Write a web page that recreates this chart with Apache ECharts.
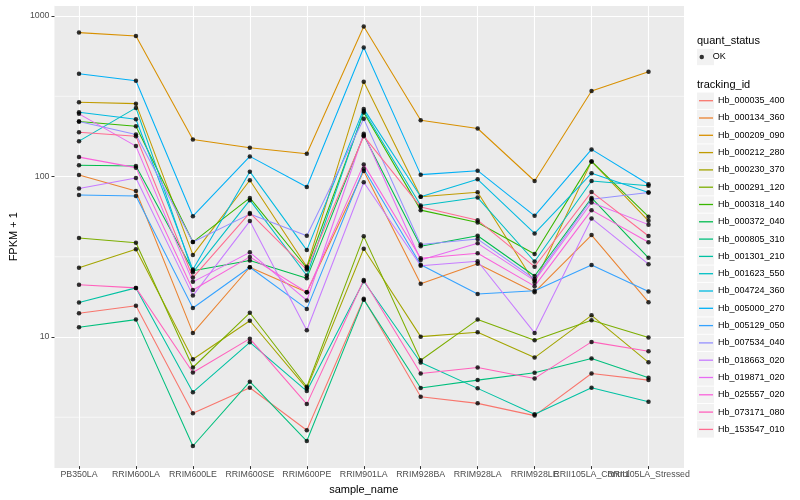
<!DOCTYPE html>
<html><head><meta charset="utf-8">
<script src="https://cdn.jsdelivr.net/npm/echarts@6/dist/echarts.min.js"></script>
<style>html,body{margin:0;padding:0;background:#fff}#c{width:800px;height:500px}</style>
</head><body><div id="c"></div>
<script>
// ---------- data (FPKM + 1) ----------
const categories = ['PB350LA','RRIM600LA','RRIM600LE','RRIM600SE','RRIM600PE','RRIM901LA','RRIM928BA','RRIM928LA','RRIM928LE','RRII105LA_Control','RRII105LA_Stressed'];
const minorGrid = [3.162, 31.62, 316.2];

const Hb_000035_400 = [13.8, 15.4, 3.27, 4.72, 2.56, 17.0, 4.15, 3.77, 3.16, 5.80, 5.27];
const Hb_000134_360 = [101.2, 80.4, 10.4, 26.8, 18.7, 107.1, 21.1, 28.2, 18.7, 42.6, 16.2];
const Hb_000209_090 = [787, 750, 168.8, 149.8, 137.5, 860, 222.6, 197.7, 92.8, 339.5, 447.9];
const Hb_000212_280 = [288.3, 282.9, 32.0, 93.8, 27.0, 388, 74.0, 78.9, 21.4, 123.1, 52.3];
const Hb_000230_370 = [26.6, 34.7, 7.12, 12.4, 4.68, 35.0, 9.86, 10.5, 7.29, 13.4, 6.81];
const Hb_000291_120 = [40.8, 38.1, 6.32, 13.9, 4.79, 41.8, 7.02, 12.6, 9.35, 12.5, 9.74];
const Hb_000318_140 = [218.6, 204.3, 38.5, 72.7, 26.5, 248.6, 61.0, 51.1, 32.4, 123.1, 55.5];
const Hb_000372_040 = [116.3, 115.1, 25.5, 29.5, 22.9, 179.6, 36.2, 42.2, 23.6, 72.7, 30.7];
const Hb_000805_310 = [11.3, 12.6, 2.04, 5.15, 2.19, 16.8, 4.70, 5.27, 5.86, 7.19, 5.45];
const Hb_001301_210 = [16.1, 19.9, 4.43, 9.08, 4.50, 21.9, 6.79, 4.68, 3.22, 4.72, 3.86];
const Hb_001623_550 = [164.8, 266.0, 24.9, 70.4, 23.8, 254.1, 65.2, 73.1, 29.1, 92.8, 86.6];
const Hb_004724_360 = [249.7, 225.9, 25.9, 106.2, 34.3, 262.2, 74.0, 95.1, 43.6, 103.7, 78.6];
const Hb_005000_270 = [435, 393.6, 55.9, 132.3, 85.2, 634.5, 101.7, 107.7, 56.2, 146.3, 88.5];
const Hb_005129_050 = [75.9, 74.8, 14.9, 26.8, 14.7, 110.6, 27.8, 18.2, 19.1, 27.7, 18.9];
const Hb_007534_040 = [218.6, 181.4, 38.5, 57.6, 42.2, 227.2, 37.2, 40.2, 22.6, 71.4, 78.6];
const Hb_018663_020 = [83.2, 96.9, 17.8, 52.1, 10.8, 91.1, 27.4, 29.2, 10.4, 54.1, 28.0];
const Hb_019871_020 = [244.1, 153.4, 21.7, 33.2, 16.6, 183.2, 29.7, 37.8, 22.1, 68.1, 49.5];
const Hb_025557_020 = [130.9, 112.5, 19.3, 31.1, 18.7, 117.9, 30.5, 32.8, 20.4, 61.0, 38.4];
const Hb_073171_080 = [20.8, 19.9, 5.88, 9.58, 3.73, 22.3, 5.80, 6.32, 5.40, 9.14, 7.98];
const Hb_153547_010 = [187.5, 177.0, 23.1, 58.6, 25.9, 177.0, 63.9, 52.8, 27.0, 79.3, 42.0];

const trackingIds = ['Hb_000035_400','Hb_000134_360','Hb_000209_090','Hb_000212_280','Hb_000230_370','Hb_000291_120','Hb_000318_140','Hb_000372_040','Hb_000805_310','Hb_001301_210','Hb_001623_550','Hb_004724_360','Hb_005000_270','Hb_005129_050','Hb_007534_040','Hb_018663_020','Hb_019871_020','Hb_025557_020','Hb_073171_080','Hb_153547_010'];
const seriesValues = [Hb_000035_400,Hb_000134_360,Hb_000209_090,Hb_000212_280,Hb_000230_370,Hb_000291_120,Hb_000318_140,Hb_000372_040,Hb_000805_310,Hb_001301_210,Hb_001623_550,Hb_004724_360,Hb_005000_270,Hb_005129_050,Hb_007534_040,Hb_018663_020,Hb_019871_020,Hb_025557_020,Hb_073171_080,Hb_153547_010];
const quantStatus = ['OK'];

// ---------- styles ----------
const palette = ['#F8766D','#EA8331','#D89000','#C09B00','#A3A500','#7CAE00','#39B600','#00BB4E','#00BF7D','#00C1A3','#00BFC4','#00BAE0','#00B0F6','#35A2FF','#9590FF','#C77CFF','#E76BF3','#FA62DB','#FF62BC','#FF6C91'];
const FONT = '"Liberation Sans", Arial, Helvetica, sans-serif';
const yMin = 1.527, yMax = 1163;
const PANEL = {left:45, right:684, top:5.5, bottom:468};

const chart = echarts.init(document.getElementById('c'));

const minorSeries = minorGrid.map(v => ({
  type:'line', xAxisIndex:0, yAxisIndex:0, data:[[0, v], [1, v]],
  symbol:'none', showSymbol:false, silent:true, z:1,
  lineStyle:{color:'#ffffff', width:0.6}
}));
const lineSeries = trackingIds.map((id, i) => ({
  name: id, type: 'line', xAxisIndex: 1, yAxisIndex: 1,
  data: seriesValues[i], symbol: 'none', showSymbol: false,
  color: palette[i], itemStyle: {color: palette[i]},
  lineStyle: {width: 1.05, color: palette[i]}, silent: true, z: 3
}));
const points = [];
seriesValues.forEach(vals => vals.forEach((v, j) => points.push([j, v])));

const legendTop = 94.7, legendStep = 17.3;
const keyBoxes = [{type:'rect', shape:{x:697, y:57-8.2, width:17, height:16.4}, style:{fill:'#F2F2F2'}, z:1, silent:true}];
trackingIds.forEach((id, i) => keyBoxes.push({
  type:'rect', shape:{x:697, y:legendTop + 6 + legendStep*i - 8.2, width:17, height:16.4},
  style:{fill:'#F2F2F2'}, z:1, silent:true
}));

chart.setOption({
  animation: false,
  backgroundColor: '#fff',
  textStyle: {fontFamily: FONT},
  title: [
    {text:'quant_status', left:697, top:34, padding:0, textStyle:{fontSize:11, fontWeight:'normal', color:'#000', fontFamily:FONT, lineHeight:13}},
    {text:'tracking_id', left:697, top:78, padding:0, textStyle:{fontSize:11, fontWeight:'normal', color:'#000', fontFamily:FONT, lineHeight:13}}
  ],
  graphic: keyBoxes,
  legend: [
    {data: quantStatus.map(n => ({name:n, icon:'circle', itemStyle:{color:'#000'}})),
     orient:'vertical', left:699.5, top:51, padding:0, itemWidth:12, itemHeight:4.5,
     selectedMode:false, textStyle:{fontSize:9, lineHeight:12, color:'#000', fontFamily:FONT}},
    {data: trackingIds.map((n, i) => ({name:n, icon:'rect', itemStyle:{color:palette[i]}})),
     orient:'vertical', left:699, top:legendTop, padding:0, itemWidth:14, itemHeight:1.3,
     itemGap:5.3, selectedMode:false, textStyle:{fontSize:9, lineHeight:12, color:'#000', fontFamily:FONT}}
  ],
  grid: [
    {left:PANEL.left, right:800-PANEL.right, top:PANEL.top, bottom:500-PANEL.bottom, show:true, backgroundColor:'#EBEBEB', borderWidth:0, containLabel:false},
    {left:79, right:800-648.5, top:PANEL.top, bottom:500-PANEL.bottom, show:false, containLabel:false}
  ],
  xAxis: [
    {gridIndex:0, type:'value', min:0, max:1, show:false},
    {gridIndex:1, type:'category', data:categories, boundaryGap:false,
     name:'sample_name', nameLocation:'middle', nameGap:15,
     nameTextStyle:{fontSize:11, color:'#000', fontFamily:FONT},
     axisLine:{show:false},
     axisTick:{show:true, length:3, interval:0, lineStyle:{color:'#333', width:1}},
     axisLabel:{interval:0, fontSize:8.8, color:'#4D4D4D', margin:4, fontFamily:FONT},
     splitLine:{show:true, interval:0, lineStyle:{color:'#fff', width:1.1}}}
  ],
  yAxis: [
    {gridIndex:0, type:'log', logBase:10, min:yMin, max:yMax,
     name:'FPKM + 1', nameLocation:'middle', nameGap:26, nameRotate:90,
     nameTextStyle:{fontSize:11, color:'#000', fontFamily:FONT},
     axisLine:{show:false},
     axisTick:{show:true, length:3, lineStyle:{color:'#333', width:1}},
     axisLabel:{fontSize:8.8, color:'#4D4D4D', margin:5, showMinLabel:false, showMaxLabel:false, fontFamily:FONT,
       formatter: v => String(Math.round(v))},
     splitLine:{show:true, lineStyle:{color:'#fff', width:1.1}}},
    {gridIndex:1, type:'log', logBase:10, min:yMin, max:yMax, show:false, splitLine:{show:false}}
  ],
  series: [
    ...minorSeries,
    ...lineSeries,
    {name:'OK', type:'scatter', xAxisIndex:1, yAxisIndex:1, data:points, symbol:'circle', symbolSize:4.5,
     itemStyle:{color:'#000'}, silent:true, z:5}
  ]
});
</script></body></html>
